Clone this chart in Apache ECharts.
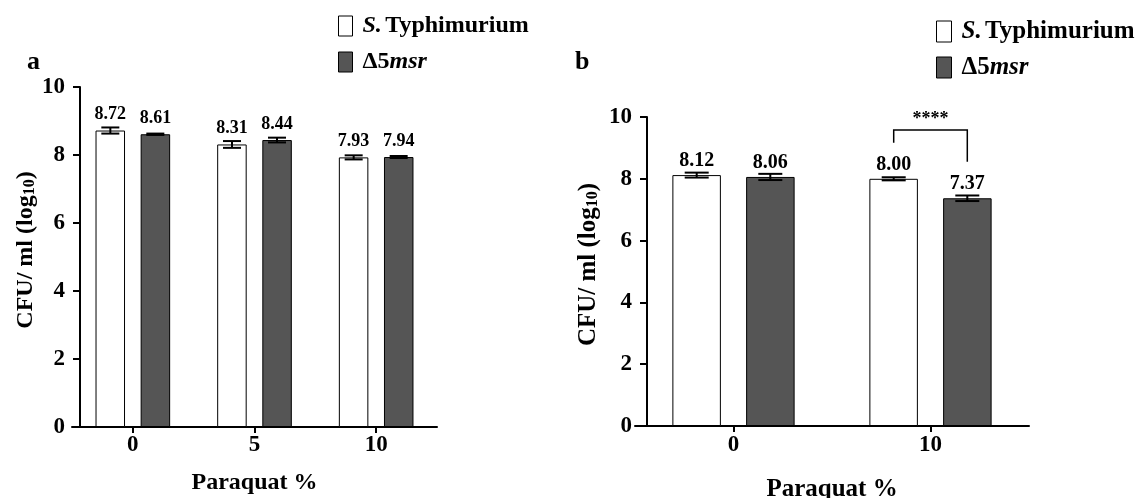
<!DOCTYPE html>
<html>
<head>
<meta charset="utf-8">
<script src="https://cdn.jsdelivr.net/npm/echarts@6/dist/echarts.min.js"></script>
<style>
html, body { margin: 0; padding: 0; background: #fff; }
#main { width: 1144px; height: 498px; }
</style>
</head>
<body>
<div id="main"></div>
<script>
// panel a data
var dosesA = ['0', '5', '10'];
var wtA = [8.72, 8.31, 7.93];
var mutA = [8.61, 8.44, 7.94];
var wtErrA = [0.09, 0.10, 0.06];
var mutErrA = [0.02, 0.07, 0.03];

// panel b data
var dosesB = ['0', '10'];
var wtB = [8.12, 8.00];
var mutB = [8.06, 7.37];
var wtErrB = [0.08, 0.05];
var mutErrB = [0.10, 0.09];

// significance bracket in panel b: category, top, left foot, right foot
var sigB = [[1, 9.58, 9.17, 8.55]];
var sigText = '****';

var FONT = '"Liberation Serif", "Times New Roman", serif';
var DARK = '#555555';

var myChart = echarts.init(document.getElementById('main'));

function errData(cats, vals, errs) {
    var out = [];
    for (var i = 0; i < cats.length; i++) {
        out.push([i, vals[i], errs[i]]);
    }
    return out;
}

// error bar drawn beside the category centre
function errRender(offset, cap) {
    return function (params, api) {
        var c = api.value(0), m = api.value(1), e = api.value(2);
        var hi = api.coord([c, m + e]);
        var lo = api.coord([c, m - e]);
        var x = hi[0] + offset;
        var st = { stroke: '#000', lineWidth: 2 };
        return {
            type: 'group',
            children: [
                { type: 'line', shape: { x1: x, y1: hi[1], x2: x, y2: lo[1] }, style: st },
                { type: 'line', shape: { x1: x - cap / 2, y1: hi[1], x2: x + cap / 2, y2: hi[1] }, style: st },
                { type: 'line', shape: { x1: x - cap / 2, y1: lo[1], x2: x + cap / 2, y2: lo[1] }, style: st }
            ]
        };
    };
}

function sigRender(offset) {
    return function (params, api) {
        var c = api.value(0);
        var top = api.coord([c, api.value(1)]);
        var lf = api.coord([c, api.value(2)]);
        var rf = api.coord([c, api.value(3)]);
        var xl = top[0] - offset, xr = top[0] + offset;
        return {
            type: 'group',
            children: [
                {
                    type: 'polyline',
                    shape: { points: [[xl, lf[1]], [xl, top[1]], [xr, top[1]], [xr, rf[1]]] },
                    style: { stroke: '#000', lineWidth: 1.5, fill: null }
                },
                {
                    type: 'text',
                    style: {
                        text: sigText, x: top[0], y: top[1] - 11,
                        align: 'center', verticalAlign: 'middle',
                        font: 'bold 18px ' + FONT, fill: '#000'
                    }
                }
            ]
        };
    };
}

function legendFmt(name) {
    if (name === 'S. Typhimurium') {
        return '{i0|S.} {n|Typhimurium}';
    }
    return '{n0|Δ5}{i|msr}';
}

function legendRich(size) {
    var base = { fontFamily: FONT, fontWeight: 'bold', fontSize: size, lineHeight: size, color: '#000' };
    return {
        n: base,
        n0: Object.assign({}, base, { padding: [0, 0, 0, 5] }),
        i: Object.assign({}, base, { fontStyle: 'italic' }),
        i0: Object.assign({}, base, { fontStyle: 'italic', padding: [0, 0, 0, 5] })
    };
}

function yNameRich(size) {
    return {
        n: { fontFamily: FONT, fontWeight: 'bold', fontSize: size, color: '#000' },
        s: { fontFamily: FONT, fontWeight: 'bold', fontSize: Math.round(size * 0.65), color: '#000', padding: [9, 0, 0, 0] }
    };
}

function yAxisFor(gridIndex, offset, nameGap, shift, nameSize) {
    return {
        type: 'value',
        gridIndex: gridIndex,
        min: 0,
        max: 10,
        interval: 2,
        offset: offset,
        name: '{n|CFU/ ml (log}{s|10}{n|)}',
        nameLocation: 'middle',
        nameGap: nameGap,
        nameTextStyle: { rich: yNameRich(nameSize), padding: [0, 0, 0, shift] },
        axisLine: { show: true, lineStyle: { color: '#000', width: 2 } },
        axisTick: { show: true, length: 7, lineStyle: { color: '#000', width: 2 } },
        axisLabel: { margin: 15, fontFamily: FONT, fontWeight: 'bold', fontSize: 23, color: '#000' },
        splitLine: { show: false }
    };
}

function xAxisFor(gridIndex, cats, nameGap, nameSize, margin) {
    return {
        type: 'category',
        gridIndex: gridIndex,
        data: cats,
        name: 'Paraquat %',
        nameLocation: 'middle',
        nameGap: nameGap,
        nameTextStyle: { fontFamily: FONT, fontWeight: 'bold', fontSize: nameSize, color: '#000' },
        axisLine: { show: true, lineStyle: { color: '#000', width: 2 } },
        axisTick: { show: true, alignWithLabel: true, length: 6, lineStyle: { color: '#000', width: 2 } },
        axisLabel: { margin: margin, fontFamily: FONT, fontWeight: 'bold', fontSize: 23, color: '#000' }
    };
}

function barLabel(size, dist) {
    return {
        show: true,
        position: 'top',
        distance: dist,
        fontFamily: FONT,
        fontWeight: 'bold',
        fontSize: size,
        color: '#000',
        formatter: function (p) { return p.value.toFixed(2); }
    };
}

var whiteStyle = { color: '#ffffff', borderColor: '#000', borderWidth: 1 };
var darkStyle = { color: DARK, borderColor: '#000', borderWidth: 1 };

option = {
    animation: false,
    backgroundColor: '#fff',
    title: [
        { text: 'a', left: 22, top: 44, textStyle: { fontFamily: FONT, fontWeight: 'bold', fontSize: 26, color: '#000' } },
        { text: 'b', left: 570, top: 44, textStyle: { fontFamily: FONT, fontWeight: 'bold', fontSize: 26, color: '#000' } }
    ],
    legend: [
        {
            orient: 'vertical', left: 338, top: 14, padding: 0,
            itemWidth: 14, itemHeight: 20, itemGap: 12,
            icon: 'rect',
            formatter: legendFmt,
            textStyle: { rich: legendRich(24) },
            data: [
                { name: 'S. Typhimurium', itemStyle: whiteStyle },
                { name: 'Δ5msr', itemStyle: darkStyle }
            ]
        },
        {
            orient: 'vertical', left: 936, top: 19, padding: 0,
            itemWidth: 15, itemHeight: 21, itemGap: 11,
            icon: 'rect',
            formatter: legendFmt,
            textStyle: { rich: legendRich(25) },
            data: [
                { name: 'S. Typhimurium', itemStyle: whiteStyle },
                { name: 'Δ5msr', itemStyle: darkStyle }
            ]
        }
    ],
    grid: [
        { left: 72, width: 365, top: 87, height: 340, outerBoundsMode: 'none' },
        { left: 635, width: 394, top: 117, height: 309, outerBoundsMode: 'none' }
    ],
    xAxis: [
        xAxisFor(0, dosesA, 44, 24, 7),
        xAxisFor(1, dosesB, 51, 25, 8)
    ],
    yAxis: [
        yAxisFor(0, -8, 41, 14, 24),
        yAxisFor(1, -12, 46, 14, 25)
    ],
    series: [
        {
            name: 'S. Typhimurium', type: 'bar', xAxisIndex: 0, yAxisIndex: 0,
            barWidth: 29.5, barGap: '53%', data: wtA,
            itemStyle: whiteStyle, label: barLabel(18, 7)
        },
        {
            name: 'Δ5msr', type: 'bar', xAxisIndex: 0, yAxisIndex: 0,
            barWidth: 29.5, barGap: '53%', data: mutA,
            itemStyle: darkStyle, label: barLabel(18, 7)
        },
        {
            type: 'custom', xAxisIndex: 0, yAxisIndex: 0, z: 5,
            renderItem: errRender(-22.5, 18), data: errData(dosesA, wtA, wtErrA)
        },
        {
            type: 'custom', xAxisIndex: 0, yAxisIndex: 0, z: 5,
            renderItem: errRender(22.5, 18), data: errData(dosesA, mutA, mutErrA)
        },
        {
            name: 'S. Typhimurium', type: 'bar', xAxisIndex: 1, yAxisIndex: 1,
            barWidth: 48.5, barGap: '52%', data: wtB,
            itemStyle: whiteStyle, label: barLabel(20, 4)
        },
        {
            name: 'Δ5msr', type: 'bar', xAxisIndex: 1, yAxisIndex: 1,
            barWidth: 48.5, barGap: '52%', data: mutB,
            itemStyle: darkStyle, label: barLabel(20, 4)
        },
        {
            type: 'custom', xAxisIndex: 1, yAxisIndex: 1, z: 5,
            renderItem: errRender(-36.8, 24), data: errData(dosesB, wtB, wtErrB)
        },
        {
            type: 'custom', xAxisIndex: 1, yAxisIndex: 1, z: 5,
            renderItem: errRender(36.8, 24), data: errData(dosesB, mutB, mutErrB)
        },
        {
            type: 'custom', xAxisIndex: 1, yAxisIndex: 1, z: 5,
            renderItem: sigRender(36.8), data: sigB
        }
    ]
};

myChart.setOption(option);
</script>
</body>
</html>
